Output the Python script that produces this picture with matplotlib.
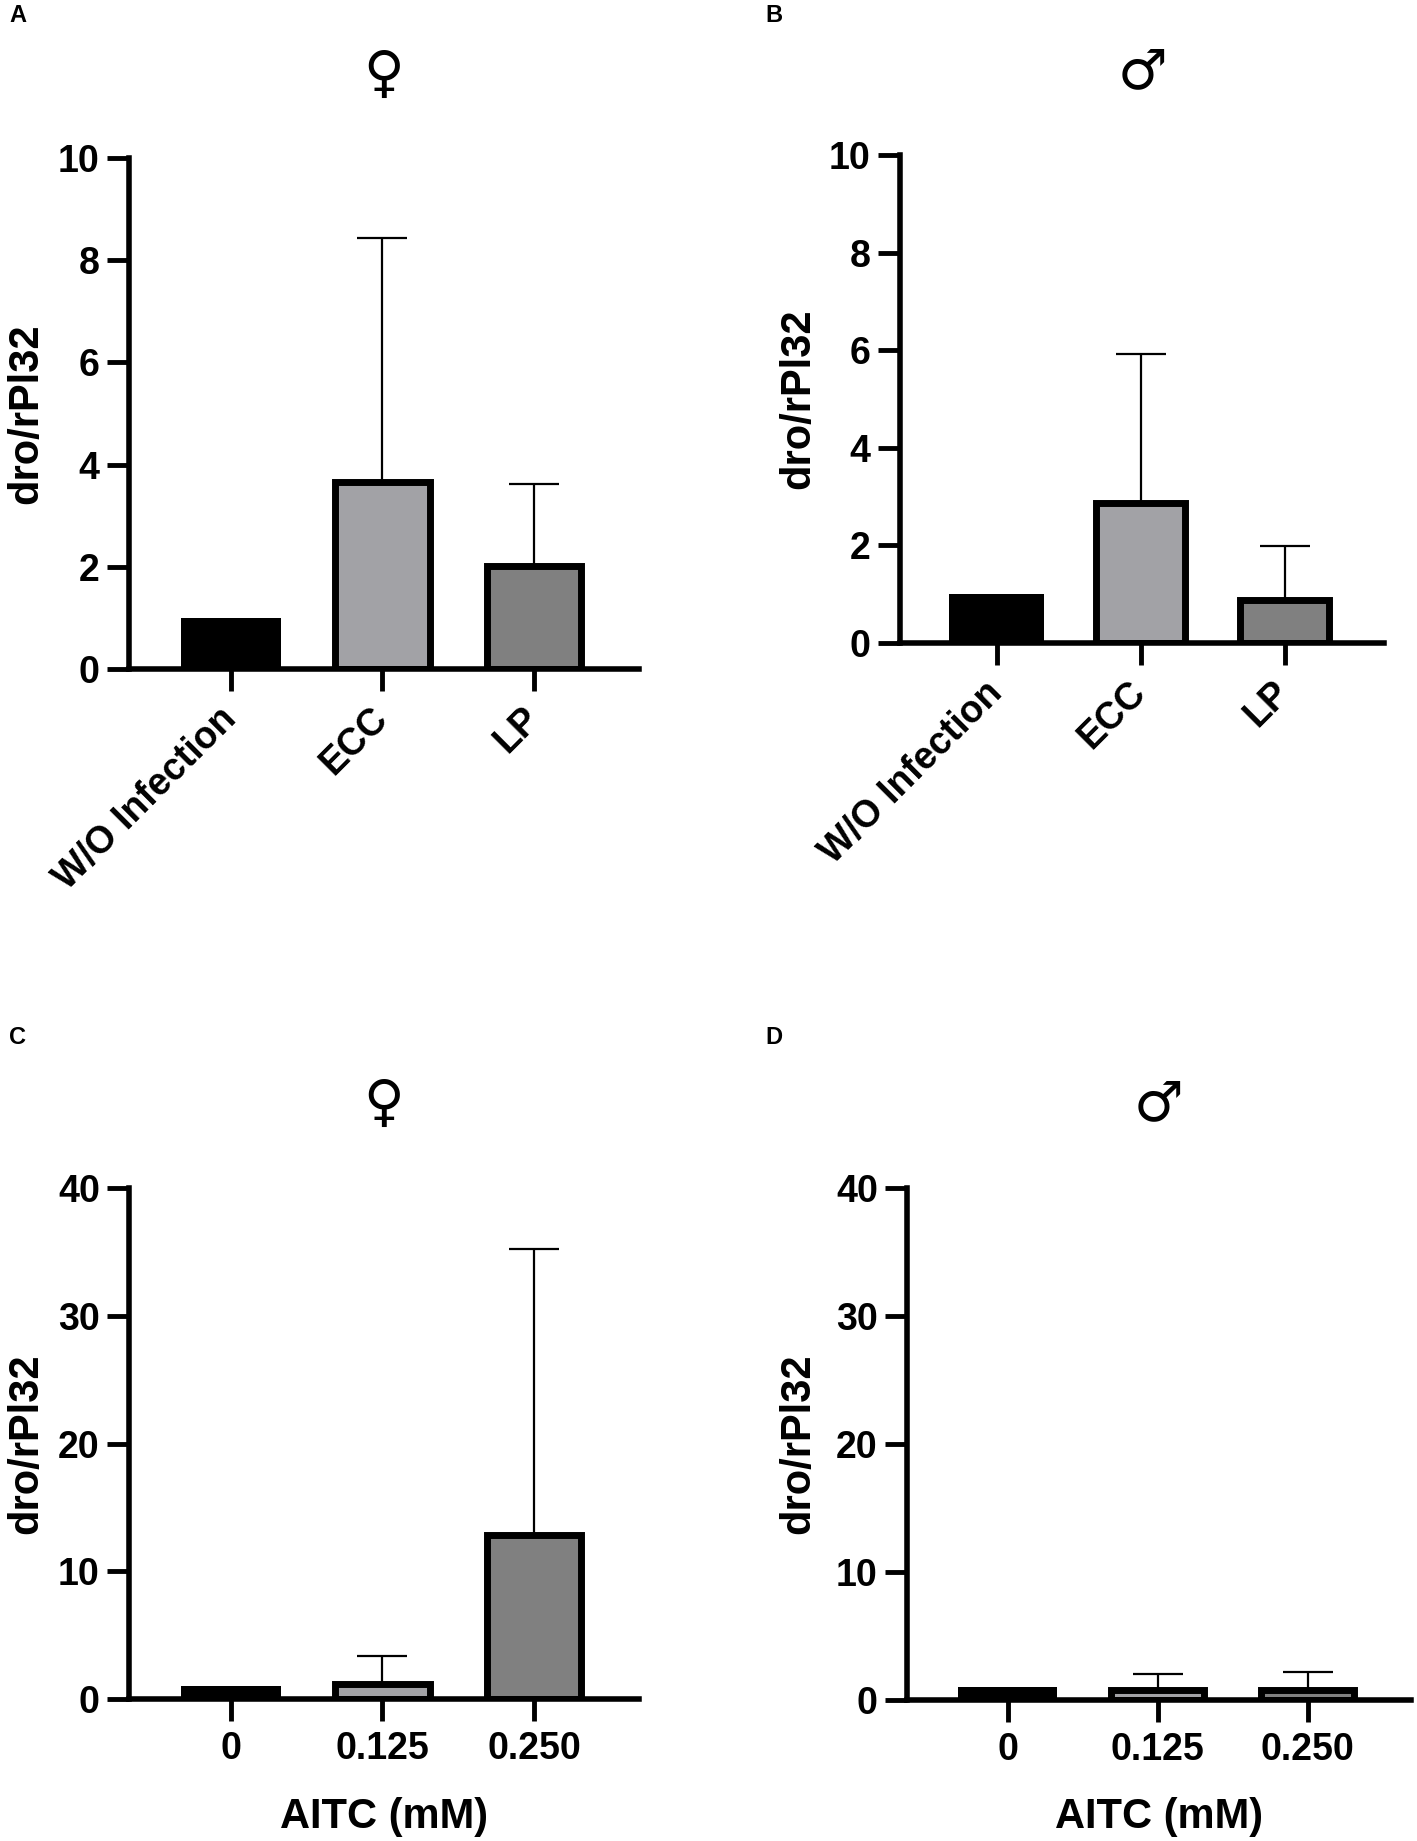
import numpy as np
import matplotlib
matplotlib.use("Agg")
import matplotlib.pyplot as plt

plt.rcParams['font.family'] = ['Liberation Sans', 'DejaVu Sans']
plt.rcParams['font.weight'] = 'bold'

# data
infection_labels = ["W/O Infection", "ECC", "LP"]
aitc_labels = ["0", "0.125", "0.250"]

female_infection = [1.0, 3.65, 2.02]
female_infection_top = [np.nan, 8.43, 3.62]
male_infection = [1.0, 2.87, 0.88]
male_infection_top = [np.nan, 5.93, 1.99]

female_aitc = [1.0, 1.15, 12.8]
female_aitc_top = [np.nan, 3.35, 35.2]
male_aitc = [1.0, 0.78, 0.80]
male_aitc_top = [np.nan, 2.05, 2.17]

small_ticks = [0, 2, 4, 6, 8, 10]
big_ticks = [0, 10, 20, 30, 40]

BAR_COLORS = ["#000000", "#a2a2a6", "#808080"]
W, H = 1417, 1841


def frac_box(left, right, top, bottom):
    return [left / W, 1 - bottom / H, (right - left) / W, (bottom - top) / H]


def draw_panel(ax, labels, values, tops, ymax, yticks, rotate):
    x = np.arange(len(values))
    ax.bar(x, values, width=[0.66, 0.62, 0.62], color=BAR_COLORS,
           edgecolor="black", linewidth=[0, 5, 5], zorder=2)
    tops = np.array(tops)
    vals = np.array(values)
    ok = ~np.isnan(tops)
    ax.errorbar(x[ok], vals[ok], yerr=[np.zeros(ok.sum()), tops[ok] - vals[ok]],
                fmt="none", ecolor="black", elinewidth=1.6, capsize=18,
                capthick=1.6, zorder=1)
    ax.set_xlim(-0.67, 2.69)
    ax.set_ylim(0, ymax)
    ax.set_yticks(yticks)
    ax.set_xticks(x)
    for s in ["top", "right"]:
        ax.spines[s].set_visible(False)
    for s in ["left", "bottom"]:
        ax.spines[s].set_linewidth(4)
    ax.tick_params(axis="both", direction="out", length=16, width=3.5,
                   labelsize=27)
    ax.tick_params(axis="y", pad=5)
    if rotate:
        ax.set_xticklabels(labels, rotation=45, ha="right", va="center",
                           rotation_mode="anchor", fontweight="bold")
        ax.tick_params(axis="x", pad=16)
    else:
        ax.set_xticklabels(labels, fontweight="bold")
        ax.tick_params(axis="x", pad=7)
    for t in ax.get_yticklabels():
        t.set_fontweight("bold")


fig = plt.figure(figsize=(W / 100, H / 100), dpi=100)

boxes = {
    "A": (129, 639, 158, 669),
    "B": (900, 1384, 155, 643),
    "C": (129, 639, 1188, 1699),
    "D": (907, 1411, 1188, 1700),
}
panels = {
    "A": (infection_labels, female_infection, female_infection_top, 10, small_ticks, True, "\u2640"),
    "B": (infection_labels, male_infection, male_infection_top, 10, small_ticks, True, "\u2642"),
    "C": (aitc_labels, female_aitc, female_aitc_top, 40, big_ticks, False, "\u2640"),
    "D": (aitc_labels, male_aitc, male_aitc_top, 40, big_ticks, False, "\u2642"),
}
letter_pos = {"A": (18, 16), "B": (774, 16), "C": (18, 1037), "D": (774, 1037)}
ylabel_x = {"A": 26, "B": 798, "C": 26, "D": 798}
title_y = {"A": 76, "B": 73, "C": 1105, "D": 1105}

for key, (l, r, t, b) in boxes.items():
    ax = fig.add_axes(frac_box(l, r, t, b))
    labels, vals, tops, ymax, yticks, rotate, sym = panels[key]
    draw_panel(ax, labels, vals, tops, ymax, yticks, rotate)
    cx = (l + r) / 2 / W
    fig.text(cx, 1 - title_y[key] / H, sym, ha="center", va="center",
             fontsize=40, fontweight="bold", family=["DejaVu Sans"])
    lx, ly = letter_pos[key]
    fig.text(lx / W, 1 - ly / H, key, ha="center", va="center",
             fontsize=17, fontweight="bold")
    fig.text(ylabel_x[key] / W, 1 - (t + b) / 2 / H, "dro/rPl32",
             rotation=90, ha="center", va="center", fontsize=30,
             fontweight="bold")
    if not rotate:
        fig.text(cx, 1 - 1828 / H, "AITC (mM)", ha="center",
                 va="baseline", fontsize=30, fontweight="bold")

fig.savefig("out.png", dpi=100)
